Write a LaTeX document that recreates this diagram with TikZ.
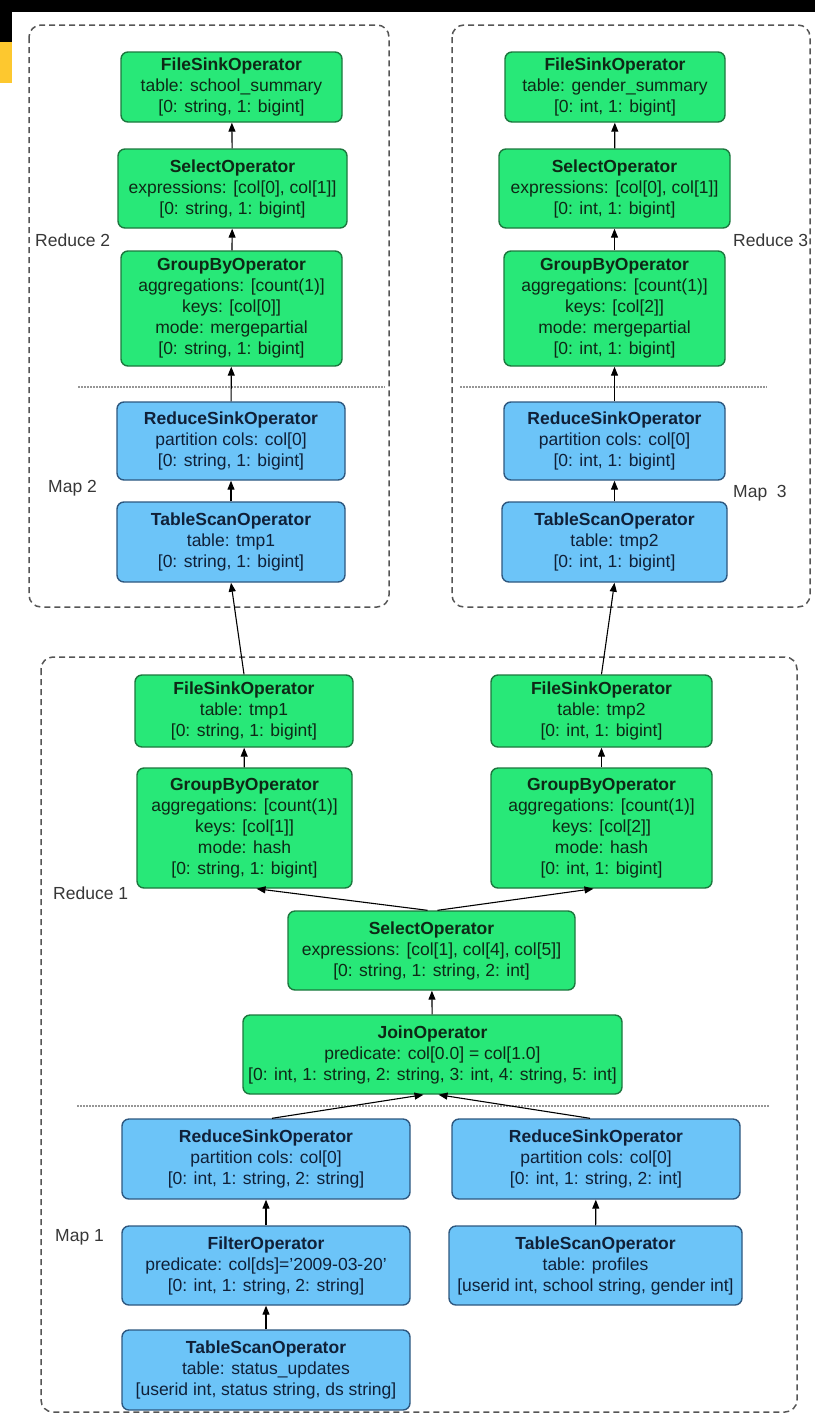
\documentclass[tikz,border=0pt]{standalone}
\usepackage{fontspec}
\setmainfont{Liberation Sans}
\usetikzlibrary{arrows.meta}

\definecolor{opgreen}{RGB}{40,232,120}
\definecolor{opgreenline}{RGB}{28,120,62}
\definecolor{opgreentext}{RGB}{14,40,22}
\definecolor{opblue}{RGB}{108,196,248}
\definecolor{opblueline}{RGB}{46,88,128}
\definecolor{opbluetext}{RGB}{16,32,56}
\definecolor{framegray}{RGB}{85,85,85}
\definecolor{sepgray}{RGB}{150,150,150}
\definecolor{labelgray}{RGB}{55,55,55}
\definecolor{baryellow}{RGB}{253,200,47}

\begin{document}
\begin{tikzpicture}[x=1pt,y=-1pt,
  op/.style={rounded corners=7pt, line width=1.4pt, align=center, inner sep=2pt,
    font=\fontsize{17.5}{21}\selectfont},
  redop/.style={op, fill=opgreen, draw=opgreenline, text=opgreentext},
  mapop/.style={op, fill=opblue, draw=opblueline, text=opbluetext},
  sz/.style n args={2}{minimum width=#1pt, minimum height=#2pt},
  stage/.style={draw=framegray, line width=1.5pt, dash pattern=on 6pt off 4pt, rounded corners=12pt},
  phase/.style={draw=sepgray, line width=1.5pt, dash pattern=on 1.5pt off 1.5pt},
  stagelabel/.style={anchor=west, inner sep=0pt, text=labelgray,
    font=\fontsize{17.5}{21}\selectfont},
  flow/.style={draw=black, line width=1.1pt, -{Triangle[length=9pt,width=7pt]}},
]
\useasboundingbox (0,0) rectangle (815,1414);
\fill[white] (0,0) rectangle (815,1414);

% header strip
\fill[black] (0,0) rectangle (815,12);
\fill[black] (0,0) rectangle (12,42);
\fill[baryellow] (0,42) rectangle (12,83);

% stage frames
\draw[stage] (29,25) rectangle (389,607);
\draw[stage] (452,25) rectangle (810,607);
\draw[stage] (41,657) rectangle (797,1412);

% map / reduce boundaries
\draw[phase] (78,387) -- (385,387);
\draw[phase] (460,387) -- (767,387);
\draw[phase] (77,1106) -- (769,1106);

% stage labels
\node[stagelabel] (lblR2) at (35,240) {Reduce 2};
\node[stagelabel] (lblR3) at (733,240) {Reduce 3};
\node[stagelabel] (lblM2) at (48,488) {Map 2};
\node[stagelabel] (lblM3) at (733,493) {Map~~3};
\node[stagelabel] (lblR1) at (53,893) {Reduce 1};
\node[stagelabel] (lblM1) at (55,1237) {Map 1};

% ---- job 2: school summary ----
\node[redop, sz={221}{70}] (fsS) at (231.5,87)
  {\textbf{FileSinkOperator}\\table: school\_summary\\{}[0: string, 1: bigint]};
\node[redop, sz={229}{79}] (selL) at (232.5,188.5)
  {\textbf{SelectOperator}\\expressions: [col[0], col[1]]\\{}[0: string, 1: bigint]};
\node[redop, sz={221}{115}] (gbL2) at (231.5,308.5)
  {\textbf{GroupByOperator}\\aggregations: [count(1)]\\keys: [col[0]]\\mode: mergepartial\\{}[0: string, 1: bigint]};
\node[mapop, sz={228}{78}] (rsL2) at (231,441)
  {\textbf{ReduceSinkOperator}\\partition cols: col[0]\\{}[0: string, 1: bigint]};
\node[mapop, sz={228}{80}] (tsL2) at (231,542)
  {\textbf{TableScanOperator}\\table: tmp1\\{}[0: string, 1: bigint]};

% ---- job 3: gender summary ----
\node[redop, sz={220}{70}] (fsG) at (615,87)
  {\textbf{FileSinkOperator}\\table: gender\_summary\\{}[0: int, 1: bigint]};
\node[redop, sz={231}{79}] (selR) at (614.5,188.5)
  {\textbf{SelectOperator}\\expressions: [col[0], col[1]]\\{}[0: int, 1: bigint]};
\node[redop, sz={221}{115}] (gbR2) at (614.5,308.5)
  {\textbf{GroupByOperator}\\aggregations: [count(1)]\\keys: [col[2]]\\mode: mergepartial\\{}[0: int, 1: bigint]};
\node[mapop, sz={221}{78}] (rsR2) at (614.5,441)
  {\textbf{ReduceSinkOperator}\\partition cols: col[0]\\{}[0: int, 1: bigint]};
\node[mapop, sz={225}{80}] (tsR2) at (614.5,542)
  {\textbf{TableScanOperator}\\table: tmp2\\{}[0: int, 1: bigint]};

% ---- job 1: join and partial aggregation ----
\node[redop, sz={218}{72}] (fsT1) at (244,711)
  {\textbf{FileSinkOperator}\\table: tmp1\\{}[0: string, 1: bigint]};
\node[redop, sz={215}{120}] (gbT1) at (244.5,828)
  {\textbf{GroupByOperator}\\aggregations: [count(1)]\\keys: [col[1]]\\mode: hash\\{}[0: string, 1: bigint]};
\node[redop, sz={221}{72}] (fsT2) at (601.5,711)
  {\textbf{FileSinkOperator}\\table: tmp2\\{}[0: int, 1: bigint]};
\node[redop, sz={221}{120}] (gbT2) at (601.5,828)
  {\textbf{GroupByOperator}\\aggregations: [count(1)]\\keys: [col[2]]\\mode: hash\\{}[0: int, 1: bigint]};
\node[redop, sz={287}{79}] (sel) at (431.5,950.5)
  {\textbf{SelectOperator}\\expressions: [col[1], col[4], col[5]]\\{}[0: string, 1: string, 2: int]};
\node[redop, sz={379}{79}] (join) at (432.5,1054.5)
  {\textbf{JoinOperator}\\predicate: col[0.0] = col[1.0]\\{}[0: int, 1: string, 2: string, 3: int, 4: string, 5: int]};
\node[mapop, sz={288}{80}] (rsA) at (266,1159)
  {\textbf{ReduceSinkOperator}\\partition cols: col[0]\\{}[0: int, 1: string, 2: string]};
\node[mapop, sz={288}{80}] (rsB) at (596,1159)
  {\textbf{ReduceSinkOperator}\\partition cols: col[0]\\{}[0: int, 1: string, 2: int]};
\node[mapop, sz={288}{79}] (filt) at (266,1265.5)
  {\textbf{FilterOperator}\\predicate: col[ds]='2009-03-20'\\{}[0: int, 1: string, 2: string]};
\node[mapop, sz={293}{79}] (tsP) at (595.5,1265.5)
  {\textbf{TableScanOperator}\\table: profiles\\{}[userid int, school string, gender int]};
\node[mapop, sz={288}{80}] (tsS) at (266,1370)
  {\textbf{TableScanOperator}\\table: status\_updates\\{}[userid int, status string, ds string]};

% data flow
\draw[flow] (selL) -- (fsS);
\draw[flow] (gbL2) -- (selL);
\draw[flow] (rsL2) -- (gbL2);
\draw[flow] (tsL2) -- (rsL2);

\draw[flow] (selR) -- (fsG);
\draw[flow] (gbR2) -- (selR);
\draw[flow] (rsR2) -- (gbR2);
\draw[flow] (tsR2) -- (rsR2);

\draw[flow] (fsT1.north) -- (tsL2.south);
\draw[flow] (fsT2.north) -- (tsR2.south);

\draw[flow] (gbT1) -- (fsT1);
\draw[flow] (gbT2) -- (fsT2);
\draw[flow] ([xshift=-4pt]sel.north) -- ([xshift=12pt]gbT1.south);
\draw[flow] ([xshift=6pt]sel.north) -- ([xshift=-8pt]gbT2.south);
\draw[flow] (join) -- (sel);
\draw[flow] ([xshift=6pt]rsA.north) -- ([xshift=-9pt]join.south);
\draw[flow] ([xshift=-6pt]rsB.north) -- ([xshift=6pt]join.south);
\draw[flow] (filt) -- (rsA);
\draw[flow] (tsS) -- (filt);
\draw[flow] (tsP) -- (rsB);
\end{tikzpicture}
\end{document}
